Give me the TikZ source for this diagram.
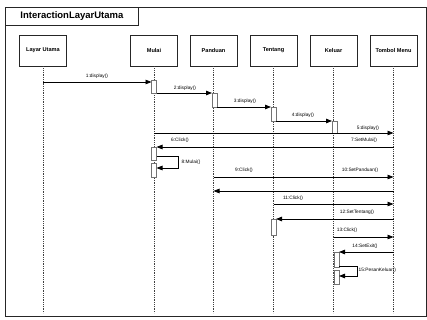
\documentclass[tikz,border=0pt]{standalone}
\usepackage{fontspec}
\setmainfont{Liberation Sans}
\usetikzlibrary{arrows.meta}
\begin{document}
\begin{tikzpicture}[x=1pt,y=-1pt,
  frame/.style={draw=black!85,line width=0.9pt},
  lifebox/.style={draw=black!85,line width=0.8pt,fill=white,minimum width=47pt,minimum height=31pt,inner sep=0pt,font=\bfseries\fontsize{5.6}{6}\selectfont},
  lifeline/.style={draw=black!75,line width=0.9pt,dash pattern=on 1pt off 0.8pt},
  act/.style={draw=black!55,line width=0.6pt,fill=white},
  msg/.style={draw=black,line width=0.8pt,-{Triangle[length=6pt,width=4.5pt]}},
  plain/.style={draw=black,line width=0.8pt},
  lbl/.style={font=\fontsize{4.8}{5}\selectfont,inner sep=0.5pt}]
\useasboundingbox (0,0) rectangle (427,320);
\fill[white] (0,0) rectangle (427,320);
% frame
\draw[frame] (5,316) -- (5,7) -- (426,7) -- (426,316) -- cycle;
\node[frame,draw,anchor=north west,minimum width=133pt,minimum height=18pt,inner sep=0pt,font=\bfseries\fontsize{9.5}{10}\selectfont] (title) at (5,7) {InteractionLayarUtama};
% lifeline heads
\node[lifebox] (lu) at (43,50.5) {Layar Utama};
\node[lifebox] (mu) at (154,50.5) {Mulai};
\node[lifebox] (pa) at (213.5,50.5) {Panduan};
\node[lifebox] (te) at (273.5,50.5) {Tentang};
\node[lifebox] (ka) at (333.5,50.5) {Keluar};
\node[lifebox] (tm) at (393.5,50.5) {Tombol Menu};
% lifelines
\coordinate (luE) at (43,313);
\coordinate (muE) at (154,313);
\coordinate (paE) at (213.5,313);
\coordinate (teE) at (273.5,313);
\coordinate (kaE) at (333.5,313);
\coordinate (tmE) at (393.5,313);
\draw[lifeline] (lu.south) -- (luE);
\draw[lifeline] (mu.south) -- (muE);
\draw[lifeline] (pa.south) -- (paE);
\draw[lifeline] (te.south) -- (teE);
\draw[lifeline] (ka.south) -- (kaE);
\draw[lifeline] (tm.south) -- (tmE);
% activations
\draw[act] (151.5,80) rectangle (156.5,93);
\draw[act] (212,93) rectangle (217,107);
\draw[act] (271,107) rectangle (276,121);
\draw[act] (332,121) rectangle (337,133);
\draw[act] (151.5,147) rectangle (156.5,160);
\draw[act] (151.5,163) rectangle (156.5,177);
\draw[act] (271,219) rectangle (276,235);
\draw[act] (334,252) rectangle (339,267);
\draw[act] (334,270) rectangle (339,284);
% messages
\draw[msg] (43,82) -- (151.5,82);
\node[lbl] (m1) at (97,76) {1:display()};
\draw[msg] (156.5,93) -- (212,93);
\node[lbl] (m2) at (185,88) {2:display()};
\draw[msg] (217,107) -- (271,107);
\node[lbl] (m3) at (245,101) {3:display()};
\draw[msg] (276,121) -- (332,121);
\node[lbl] (m4) at (303,115) {4:display()};
\draw[msg] (154,133) -- (393.5,133);
\node[lbl] (m5) at (368,128) {5:display()};
\draw[msg] (393.5,147) -- (156.5,147);
\node[lbl] (m6) at (180,140) {6:Click()};
\node[lbl] (m7) at (364,140) {7:SetMulai()};
\draw[msg] (156.5,156) -- (178,156) -- (178,168) -- (156.5,168);
\node[lbl,anchor=west] (m8) at (181,162) {8:Mulai()};
\draw[msg] (213.5,177) -- (393.5,177);
\node[lbl] (m9) at (244,170) {9:Click()};
\node[lbl] (m10) at (360,170) {10:SetPanduan()};
\draw[msg] (393.5,191) -- (213.5,191);
\draw[msg] (273.5,204) -- (393.5,204);
\node[lbl] (m11) at (293,198) {11:Click()};
\draw[msg] (393.5,219) -- (276,219);
\node[lbl] (m12) at (357,212) {12:SetTentang()};
\draw[msg] (333.5,237) -- (393.5,237);
\node[lbl] (m13) at (347,230) {13:Click()};
\draw[msg] (393.5,252) -- (339,252);
\node[lbl] (m14) at (365,246) {14:SetExit()};
\draw[msg] (339,266) -- (357,266) -- (357,276) -- (339,276);
\node[lbl,anchor=west] (m15) at (358,270) {15:PesanKeluar()};
\end{tikzpicture}
\end{document}
